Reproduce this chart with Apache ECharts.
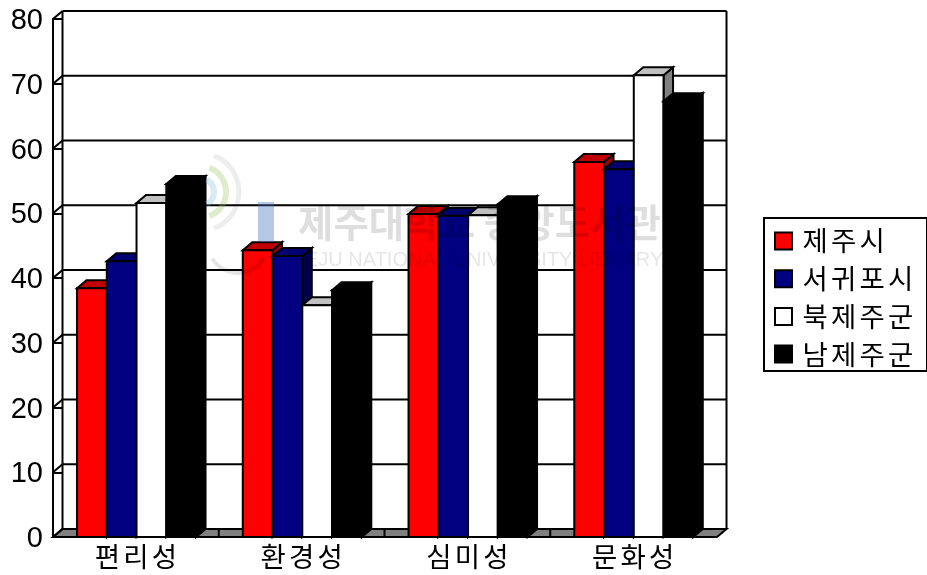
<!DOCTYPE html>
<html><head><meta charset="utf-8">
<style>html,body{margin:0;padding:0;background:#fff}#c{width:927px;height:575px}</style>
<script src="https://cdn.jsdelivr.net/npm/echarts@6/dist/echarts.min.js"></script>
</head><body><div id="c"></div>
<script>
var categories = ['편리성','환경성','심미성','문화성'];
var yTicks = [0,10,20,30,40,50,60,70,80];
var names = ['제주시','서귀포시','북제주군','남제주군'];
var cheju = [38.4,44.3,49.9,57.9];
var seogwi = [42.6,43.4,49.6,56.8];
var bukjeju = [51.6,35.8,49.7,71.3];
var namjeju = [54.5,38.1,51.4,67.3];
var DX = 9.5, DY = 8, EXTRA = 1;
var FONT = '"Noto Sans CJK KR"';
var chart = echarts.init(document.getElementById('c'), null, {renderer:'canvas'});
var line = {stroke:'#000', lineWidth:2};
function spaced(s){ return s.split('').map(function(c){return '{a|'+c+'}';}).join(''); }
var richA = {a:{fontFamily:FONT, fontSize:27.5, color:'#000', width:28.5, align:'center', lineHeight:30}};
function poly(pts, fill){
  return {type:'polygon', shape:{points:pts}, style:{fill:fill, stroke:'#000', lineWidth:2, lineJoin:'miter'}};
}
function barSeries(name, values, idx, front, top, side){
  return {
    type:'custom', name:name, z:3+idx, coordinateSystem:'cartesian2d', clip:false,
    itemStyle:{color:front, borderColor:'#000', borderWidth:2},
    encode:{x:0,y:1},
    data: values.map(function(v,i){return [i,v];}),
    renderItem:function(params, api){
      var band = api.size([1,0])[0];
      var w = band*0.1795, g = band*0.145;
      var c = api.coord([api.value(0), api.value(1)]);
      var b = api.coord([api.value(0), 0]);
      var x0 = c[0]-band/2+g+idx*w, x1 = x0+w, y = c[1], yb = b[1];
      return {type:'group', children:[
        poly([[x1,y],[x1+DX,y-DY],[x1+DX,yb-DY],[x1,yb]], side),
        poly([[x0,y],[x0+DX,y-DY],[x1+DX,y-DY],[x1,y]], top),
        poly([[x0,y],[x1,y],[x1,yb],[x0,yb]], front)
      ]};
    }
  };
}
var wall = {
  type:'custom', name:'wall', z:1, clip:false, silent:true,
  encode:{y:0},
  data: yTicks.map(function(v){return [v];}),
  renderItem:function(params, api){
    var v = api.value(0);
    var f = api.coord([0,v]);
    var band = api.size([1,0])[0];
    var xl = f[0]-band/2, xr = xl+band*categories.length+EXTRA;
    var kids = [];
    if(v===0){
      var top = api.coord([0,yTicks[yTicks.length-1]])[1];
      kids.push({type:'polygon', shape:{points:[[xl,f[1]],[xl+DX,f[1]-DY],[xr+DX,f[1]-DY],[xr,f[1]]]}, style:{fill:'#808080',stroke:'#000',lineWidth:2}});
      kids.push({type:'line', shape:{x1:xl+DX,y1:top-DY,x2:xl+DX,y2:f[1]-DY}, style:line});
      kids.push({type:'line', shape:{x1:xr+DX,y1:top-DY,x2:xr+DX,y2:f[1]-DY}, style:line});
      for(var k=1;k<categories.length;k++){
        var tx = xl+band*k;
        kids.push({type:'line', shape:{x1:tx,y1:f[1]-DY,x2:tx,y2:f[1]}, style:line});
      }
    } else {
      kids.push({type:'line', shape:{x1:xl+DX,y1:f[1]-DY,x2:xr+DX,y2:f[1]-DY}, style:line});
    }
    kids.push({type:'line', shape:{x1:xl,y1:f[1],x2:xl+DX,y2:f[1]-DY}, style:line});
    return {type:'group', children:kids};
  }
};
chart.setOption({
  animation:false,
  backgroundColor:'#fff',
  grid:{left:53, right:211, top:19, bottom:38, containLabel:false},
  xAxis:{type:'category', data:categories, boundaryGap:true,
    axisLine:{lineStyle:{color:'#000',width:2}},
    axisTick:{show:false},
    axisLabel:{color:'#000', fontFamily:FONT, fontSize:27.5, margin:5, interval:0, hideOverlap:false, formatter:spaced, rich:richA}},
  yAxis:{type:'value', min:0, max:80, interval:10,
    axisLine:{show:true, lineStyle:{color:'#000',width:2}},
    axisTick:{show:true, inside:true, length:9, lineStyle:{color:'#000',width:2}},
    splitLine:{show:false},
    axisLabel:{color:'#000', fontFamily:'"Liberation Sans"', fontSize:29, margin:10, verticalAlign:'top', lineHeight:4}},
  legend:{orient:'vertical', left:764, top:218, data:names, icon:'rect', itemWidth:17, itemHeight:17, itemGap:7.7,
    padding:[8,12,2,10], borderColor:'#000', borderWidth:2, backgroundColor:'#fff', selectedMode:false,
    formatter:spaced,
    textStyle:{fontFamily:FONT, fontSize:27.5, color:'#000', lineHeight:30, padding:[0,0,0,4], rich:richA}},
  series:[wall,
    barSeries(names[0], cheju, 0, '#ff0000', '#c00000', '#a00000'),
    barSeries(names[1], seogwi, 1, '#000080', '#000070', '#000050'),
    barSeries(names[2], bukjeju, 2, '#ffffff', '#c0c0c0', '#808080'),
    barSeries(names[3], namjeju, 3, '#000000', '#000000', '#000000')
  ],
  graphic:[
    {type:'text', left:298, top:203, z:100, silent:true,
      style:{text:'제주대학교 중앙도서관', fill:'rgba(0,0,0,0.13)', font:'bold 38.5px '+FONT}},
    {type:'text', left:295, top:250, z:100, silent:true,
      style:{text:'JEJU NATIONAL UNIVERSITY LIBRARY', fill:'rgba(0,0,0,0.1)', font:'20px "Liberation Sans"'}},
    {type:'rect', shape:{x:258,y:202,width:16,height:40}, z:100, silent:true,
      style:{fill:'rgba(60,110,190,0.38)'}},
    {type:'arc', shape:{cx:200,cy:192,r:14,startAngle:-1.1,endAngle:1.1}, z:100, silent:true,
      style:{fill:null, stroke:'rgba(120,190,220,0.3)', lineWidth:6}},
    {type:'arc', shape:{cx:200,cy:192,r:26,startAngle:-1.2,endAngle:1.2}, z:100, silent:true,
      style:{fill:null, stroke:'rgba(150,190,90,0.3)', lineWidth:6}},
    {type:'arc', shape:{cx:200,cy:192,r:39,startAngle:-1.2,endAngle:1.2}, z:100, silent:true,
      style:{fill:null, stroke:'rgba(0,0,0,0.07)', lineWidth:5}},
    {type:'arc', shape:{cx:238,cy:243,r:30,startAngle:0.5,endAngle:2.6}, z:100, silent:true,
      style:{fill:null, stroke:'rgba(0,0,0,0.1)', lineWidth:4}}
  ]
});
</script></body></html>
